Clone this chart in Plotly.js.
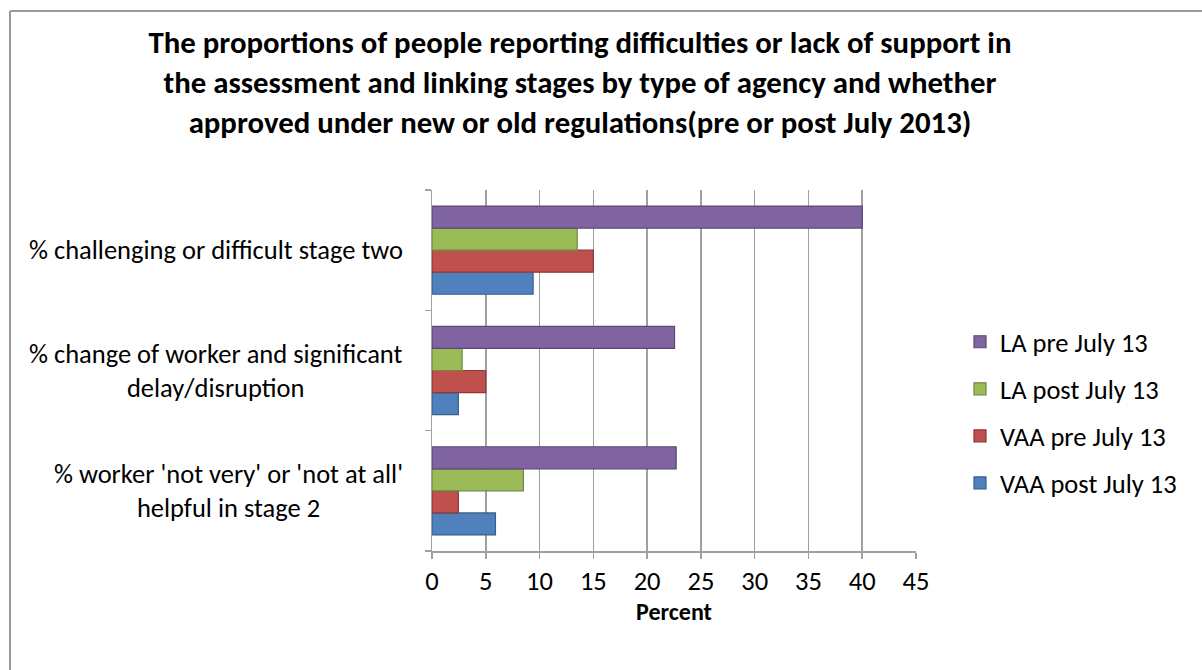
<!DOCTYPE html>
<html>
<head>
<meta charset="utf-8">
<script src="https://cdn.plot.ly/plotly-3.0.1.min.js"></script>
<style>
  html, body { margin: 0; padding: 0; background: #fff; }
  #chart { width: 1202px; height: 670px; }
</style>
</head>
<body>
<div id="chart"></div>
<script>
// Categories (bottom to top, as Plotly draws a categorical y axis)
const categories = [
  "% worker 'not very' or 'not at all'<br>helpful in stage 2",
  "% change of worker and significant<br>delay/disruption",
  "% challenging or difficult stage two"
];

// Series values, in the same order as categories
const vaaPost = [5.9, 2.45, 9.4];
const vaaPre  = [2.45, 5.0, 15.0];
const laPost  = [8.5, 2.8, 13.5];
const laPre   = [22.7, 22.55, 40.0];

const seriesNames = ["VAA post July 13", "VAA pre July 13", "LA post July 13", "LA pre July 13"];
const seriesValues = [vaaPost, vaaPre, laPost, laPre];
const fillColors = ["#4F81BD", "#C0504D", "#9BBB59", "#8064A2"];
const lineColors = ["#385D8A", "#8C3836", "#71893F", "#5C4776"];

const xTicks = [0, 5, 10, 15, 20, 25, 30, 35, 40, 45];

const FONT = "Carlito, Lato, 'Open Sans', sans-serif";
const GRID = "#a0a0a0";
const FS = 26.5;

const traces = seriesNames.map((name, i) => ({
  type: "bar",
  orientation: "h",
  name: name,
  x: seriesValues[i],
  y: categories,
  legendgroup: "g" + i,
  legendrank: 10 - i,
  marker: { color: fillColors[i], line: { color: lineColors[i], width: 1.2 } },
  hoverinfo: "x+name"
}));

// Category labels as centered multi-line annotations
const annotations = categories.map(cat => ({
  xref: "paper", yref: "y",
  x: -0.055, y: cat,
  xanchor: "right", yanchor: "middle",
  text: cat, showarrow: false, align: "center",
  font: { family: FONT, size: FS, color: "#000" }
}));

const L = 432, R = 1202 - 916, T = 190, B = 670 - 551;
const pw = 1202 - L - R, ph = 670 - T - B;
const px = v => (v - L) / pw;
const py = v => (670 - B - v) / ph;

const layout = {
  width: 1202, height: 670,
  margin: { l: L, r: R, t: T, b: B, pad: 0 },
  paper_bgcolor: "#fff", plot_bgcolor: "#fff",
  font: { family: FONT, color: "#000", size: FS },
  title: {
    text: "<b>The proportions of people reporting difficulties or lack of support in<br>the assessment and linking stages by type of agency and whether<br>approved under new or old regulations(pre or post July 2013)</b>",
    font: { family: FONT, size: 30.8, color: "#000" },
    xref: "container", yref: "container",
    x: 580 / 1202, xanchor: "center",
    y: 1 - 53 / 670, yanchor: "middle"
  },
  barmode: "group",
  bargap: 0.267,
  bargroupgap: 0,
  xaxis: {
    range: [0, 45],
    tickvals: xTicks,
    ticktext: xTicks.map(String),
    showgrid: true, gridcolor: GRID, gridwidth: 1.5,
    showline: true, linecolor: GRID, linewidth: 1.5,
    ticks: "outside", ticklen: 6, tickcolor: GRID, tickwidth: 1.5,
    ticklabelstandoff: 0,
    zeroline: false,
    tickfont: { family: FONT, size: FS, color: "#000" },
    title: { text: "<b>Percent</b>", font: { family: FONT, size: 24, color: "#000" }, standoff: 0 },
    fixedrange: true
  },
  yaxis: {
    type: "category",
    categoryorder: "array", categoryarray: categories,
    showgrid: false,
    showline: true, linecolor: GRID, linewidth: 1.5,
    ticks: "outside", tickson: "boundaries", ticklen: 6, tickcolor: GRID, tickwidth: 1.5,
    showticklabels: false,
    zeroline: false,
    fixedrange: true
  },
  legend: {
    traceorder: "grouped",
    tracegroupgap: 9.6,
    x: px(960), xanchor: "left",
    y: py(318), yanchor: "top",
    font: { family: FONT, size: FS, color: "#000" },
    bgcolor: "rgba(0,0,0,0)",
    itemclick: false, itemdoubleclick: false
  },
  annotations: annotations,
  shapes: [
    { type: "line", xref: "paper", yref: "paper", x0: px(10), x1: px(1210), y0: py(11), y1: py(11),
      line: { color: "#9a9a9a", width: 2 } },
    { type: "line", xref: "paper", yref: "paper", x0: px(10), x1: px(10), y0: py(11), y1: py(680),
      line: { color: "#9a9a9a", width: 2 } }
  ],
  showlegend: true
};

Plotly.newPlot("chart", traces, layout, { displayModeBar: false, staticPlot: true });
</script>
</body>
</html>
